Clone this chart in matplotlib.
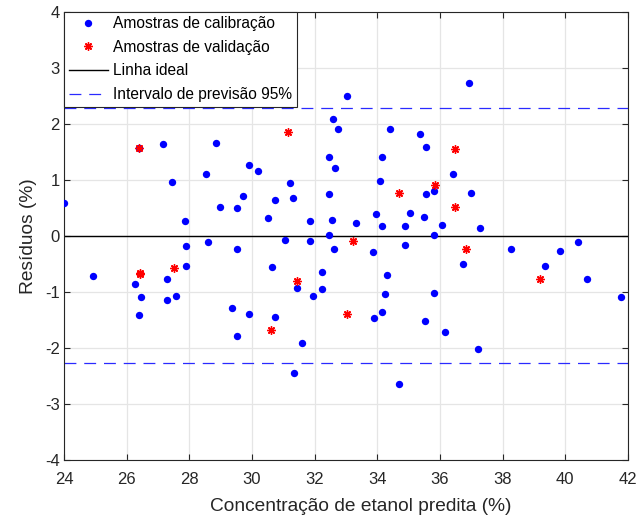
import matplotlib
matplotlib.use("Agg")
import matplotlib.pyplot as plt
import numpy as np

plt.rcParams['font.family'] = ['Liberation Sans', 'DejaVu Sans']
plt.rcParams['axes.unicode_minus'] = False

# Calibration samples: predicted concentration (%) and residual (%)
cal_x = [24.00, 26.40, 27.17, 28.84, 29.89, 28.54, 27.44, 29.71, 28.97, 29.51,
         27.85, 27.88, 28.61, 29.51, 24.92, 27.88, 26.27, 27.30, 26.46, 27.30,
         27.58, 26.38, 29.37, 29.89, 29.51, 33.02, 32.60, 32.76, 34.42, 35.35,
         35.55, 30.18, 32.47, 34.14, 32.64, 34.10, 31.22, 31.30, 32.47, 35.57,
         30.72, 30.51, 31.84, 32.55, 33.33, 33.97, 34.14, 34.89, 35.06, 35.48,
         32.47, 31.05, 31.84, 32.61, 33.85, 34.90, 30.64, 32.23, 34.31, 31.44,
         31.94, 32.22, 34.26, 30.72, 31.60, 33.89, 34.14, 35.52, 31.35, 34.69,
         36.94, 36.43, 35.82, 36.98, 36.06, 37.27, 35.81, 38.28, 36.74, 40.40,
         39.82, 39.35, 40.69, 35.81, 41.77, 36.15, 37.23]
cal_y = [0.58, 1.56, 1.63, 1.66, 1.26, 1.10, 0.96, 0.70, 0.51, 0.49,
         0.26, -0.18, -0.12, -0.23, -0.72, -0.55, -0.86, -0.77, -1.10, -1.15,
         -1.07, -1.42, -1.29, -1.40, -1.79, 2.50, 2.08, 1.91, 1.91, 1.82,
         1.59, 1.15, 1.40, 1.40, 1.20, 0.98, 0.94, 0.68, 0.75, 0.75,
         0.63, 0.31, 0.26, 0.28, 0.23, 0.38, 0.17, 0.17, 0.40, 0.33,
         0.01, -0.07, -0.09, -0.23, -0.30, -0.16, -0.56, -0.65, -0.70, -0.94,
         -1.08, -0.95, -1.05, -1.45, -1.92, -1.47, -1.37, -1.52, -2.46, -2.64,
         2.73, 1.10, 0.79, 0.77, 0.19, 0.14, 0.02, -0.23, -0.51, -0.12,
         -0.28, -0.54, -0.77, -1.03, -1.10, -1.72, -2.03]

# Validation samples
val_x = [26.40, 26.42, 26.44, 27.51, 31.14, 34.68, 33.22, 31.43, 30.60, 33.04,
         36.48, 35.84, 36.48, 36.82, 39.19]
val_y = [1.56, -0.66, -0.68, -0.58, 1.85, 0.77, -0.09, -0.81, -1.68, -1.39,
         1.54, 0.91, 0.52, -0.23, -0.77]

# 95% prediction interval half-width (%)
pi_limit = 2.28

x_range = [24, 42]
y_range = [-4, 4]
x_ticks = np.arange(24, 43, 2)
y_ticks = np.arange(-4, 5, 1)

axis_color = '#262626'
asterisk = (8, 2, 0)  # eight-spoke asterisk marker

fig = plt.figure(figsize=(6.42, 5.19), dpi=100)
ax = fig.add_axes([0.0997, 0.1143, 0.8783, 0.8632])

ax.plot(cal_x, cal_y, 'o', color='#0000ff', markersize=5.3, markeredgewidth=0,
        label='Amostras de calibração', zorder=3)
ax.plot(val_x, val_y, marker=asterisk, color='#ff0000', markersize=6.0,
        markeredgewidth=1.0, linestyle='none', label='Amostras de validação',
        zorder=4)
ax.plot(x_range, [0, 0], '-', color='black', linewidth=1.0,
        label='Linha ideal', zorder=2)
ax.plot(x_range, [pi_limit, pi_limit], color='#2a2aff', linewidth=0.9,
        dashes=(9.5, 6.3), label='Intervalo de previsão 95%', zorder=2)
ax.plot(x_range, [-pi_limit, -pi_limit], color='#2a2aff', linewidth=0.9,
        dashes=(9.5, 6.3), zorder=2)

ax.set_xlim(*x_range)
ax.set_ylim(*y_range)
ax.set_xticks(x_ticks)
ax.set_yticks(y_ticks)
ax.grid(True, color='#e5e5e5', linewidth=0.9, zorder=0)
ax.set_axisbelow(True)

for side in ax.spines.values():
    side.set_color(axis_color)
    side.set_linewidth(0.8)
ax.tick_params(direction='in', length=4, width=0.8, colors=axis_color,
               labelsize=12, top=True, right=True, pad=3)
ax.tick_params(axis='x', pad=9)
for lbl in ax.get_xticklabels() + ax.get_yticklabels():
    lbl.set_color(axis_color)

ax.set_xlabel('Concentração de etanol predita (%)', fontsize=13.8,
              color=axis_color, labelpad=8)
ax.xaxis.label.set_x(0.527)
ax.set_ylabel('Resíduos (%)', fontsize=13.8, color=axis_color, labelpad=5.5)

leg = ax.legend(loc='upper left', fontsize=11.2, frameon=True, fancybox=False,
                edgecolor=axis_color, framealpha=1, borderpad=0.3,
                labelspacing=0.55, handlelength=2.5, handletextpad=0.35,
                borderaxespad=0.0)
leg.get_frame().set_linewidth(0.8)

fig.savefig('out.png', dpi=100)
